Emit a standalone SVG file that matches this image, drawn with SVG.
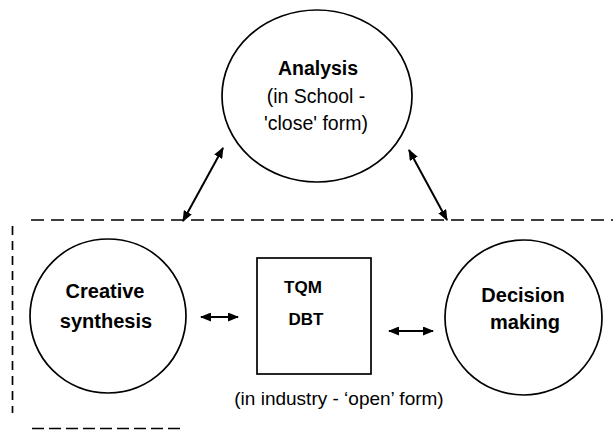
<svg xmlns="http://www.w3.org/2000/svg" width="613" height="430" viewBox="0 0 613 430">
<style>
.node{fill:#fff;stroke:#000;stroke-width:1.7}
.b{font-family:"Liberation Sans",Arial,sans-serif;font-weight:bold;fill:#000;text-anchor:middle}
.r{font-family:"Liberation Sans",Arial,sans-serif;fill:#000;text-anchor:middle}
.con{stroke:#000;stroke-width:2;fill:none;marker-start:url(#ah);marker-end:url(#ah)}
.dash{stroke:#000;stroke-width:1.7;fill:none}
</style>
<defs>
<marker id="ah" viewBox="0 0 11 9" refX="10" refY="4.5" markerWidth="11" markerHeight="9" markerUnits="userSpaceOnUse" orient="auto-start-reverse">
<path d="M0,0 L11,4.5 L0,9 z" fill="#000"/>
</marker>
</defs>
<g id="boundary">
<line class="dash" x1="31" y1="220" x2="613" y2="220" stroke-dasharray="13,7"/>
<line class="dash" x1="12.5" y1="226" x2="12.5" y2="413" stroke-dasharray="9,6"/>
<line class="dash" x1="32" y1="428.5" x2="100" y2="428.5" stroke-dasharray="12,5" stroke-width="3"/>
<line class="dash" x1="100" y1="428.5" x2="183" y2="428.5" stroke-dasharray="12,5" stroke="#b0b0b0" stroke-width="3"/>
</g>
<g id="connectors">
<line class="con" x1="223" y1="148" x2="183" y2="221"/>
<line class="con" x1="409" y1="150" x2="447" y2="220"/>
<line class="con" x1="201" y1="317" x2="238" y2="317"/>
<line class="con" x1="389" y1="331" x2="433" y2="331"/>
</g>
<g id="analysis">
<ellipse class="node" cx="317" cy="96" rx="95" ry="86"/>
<text class="b" x="318" y="75" font-size="19.5">Analysis</text>
<text class="r" x="316" y="103" font-size="19.5">(in School -</text>
<text class="r" x="316" y="130" font-size="19.5">'close' form)</text>
</g>
<g id="creative">
<ellipse class="node" cx="108" cy="316" rx="78" ry="77"/>
<text class="b" x="105" y="298" font-size="20">Creative</text>
<text class="b" x="106" y="328" font-size="20">synthesis</text>
</g>
<g id="tqm">
<rect class="node" x="257" y="258" width="114" height="116"/>
<text class="b" x="303" y="293" font-size="17">TQM</text>
<text class="b" x="306" y="325" font-size="17">DBT</text>
</g>
<g id="decision">
<ellipse class="node" cx="523.5" cy="317.5" rx="78.5" ry="77.5"/>
<text class="b" x="523" y="302" font-size="20">Decision</text>
<text class="b" x="525" y="329" font-size="20">making</text>
</g>
<text class="r" x="339" y="405" font-size="19">(in industry - ‘open’ form)</text>
</svg>
